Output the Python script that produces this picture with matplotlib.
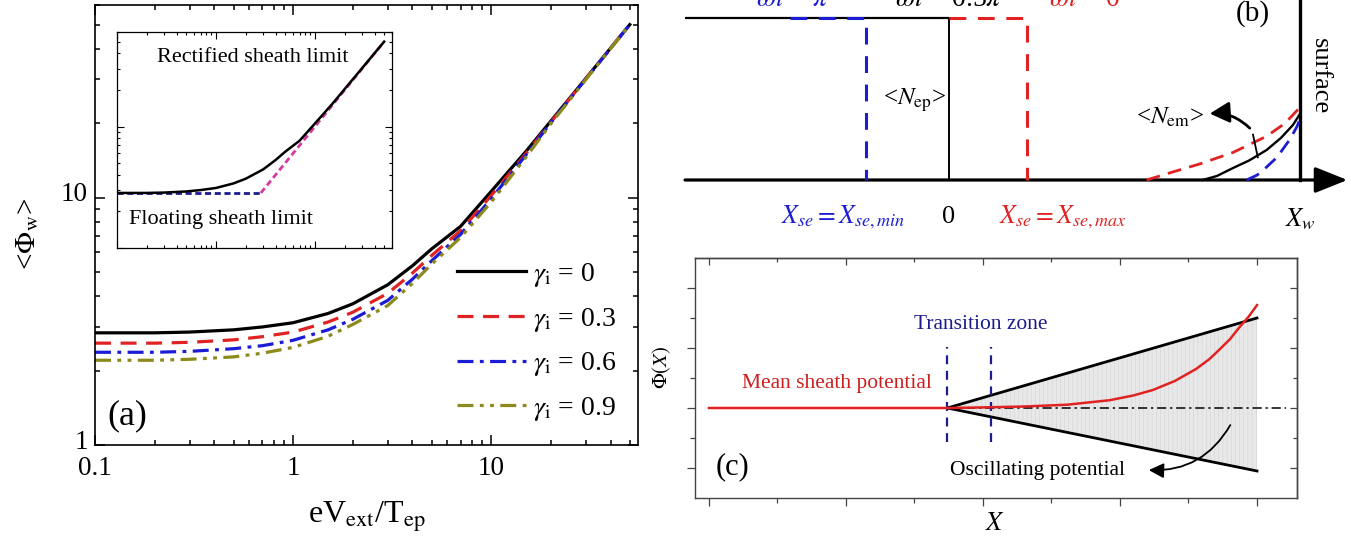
import numpy as np
import matplotlib
matplotlib.use("Agg")
import matplotlib.pyplot as plt
import matplotlib.transforms as mtransforms
from matplotlib.patches import FancyArrowPatch
from matplotlib.ticker import FixedLocator, FixedFormatter, LogLocator, NullFormatter

plt.rcParams['font.family'] = ['Liberation Serif', 'DejaVu Serif']
plt.rcParams['mathtext.fontset'] = 'stix'
plt.rcParams['hatch.linewidth'] = 0.35

# ---------------- data: panel (a) ----------------
v_ext = [0.1, 0.2, 0.3, 0.5, 0.7, 1, 1.5, 2, 3, 4, 5, 7, 10, 15, 20, 30, 50]
phi_g00 = [2.84, 2.84, 2.86, 2.92, 3.0, 3.12, 3.4, 3.72, 4.44, 5.3, 6.2, 7.65, 10.6, 15.4, 20.4, 30.3, 50]
phi_g03 = [2.58, 2.58, 2.6, 2.66, 2.74, 2.86, 3.14, 3.44, 4.1, 4.95, 5.83, 7.35, 10.2, 15.1, 20.2, 30.2, 50]
phi_g06 = [2.37, 2.37, 2.39, 2.45, 2.52, 2.65, 2.92, 3.22, 3.84, 4.68, 5.55, 7.1, 9.9, 14.9, 20.1, 30.1, 50]
phi_g09 = [2.2, 2.2, 2.22, 2.27, 2.35, 2.48, 2.75, 3.07, 3.66, 4.5, 5.38, 6.9, 9.6, 14.6, 19.9, 30.0, 50]
gamma_labels = [r"$\gamma_{\rm i}$ = 0", r"$\gamma_{\rm i}$ = 0.3",
                r"$\gamma_{\rm i}$ = 0.6", r"$\gamma_{\rm i}$ = 0.9"]
x_ticks_a = [0.1, 1, 10]
x_ticklabels_a = ["0.1", "1", "10"]
y_ticks_a = [1, 10]
y_ticklabels_a = ["1", "10"]

# inset: floating and rectified sheath limits
float_v = [0.1, 2.84]
float_phi = [2.84, 2.84]
rect_v = [2.84, 50]
rect_phi = [2.84, 50]

# ---------------- data: panel (b) schematic ----------------
xb_left, xb_se_min, xb_zero, xb_se_max, xb_w, xb_tip = -3.3, -1.04, 0.0, 0.98, 4.39, 4.98
xb_blue_start = -1.99
nem_black_x = [3.17, 3.35, 3.55, 3.75, 3.97, 4.15, 4.30, 4.39]
nem_black_y = [0.0, 0.025, 0.074, 0.12, 0.185, 0.26, 0.34, 0.41]
nem_red_x = [2.47, 2.8, 3.14, 3.55, 3.97, 4.2, 4.39]
nem_red_y = [0.0, 0.05, 0.1, 0.17, 0.27, 0.35, 0.45]
nem_blue_x = [3.72, 3.85, 3.97, 4.1, 4.26, 4.35, 4.39]
nem_blue_y = [0.0, 0.03, 0.08, 0.14, 0.25, 0.33, 0.38]

# ---------------- data: panel (c) schematic ----------------
xc_trans = [3.48, 4.11]
mean_x = [0, 1, 2, 3, 3.48, 4.0, 4.6, 5.23, 5.85, 6.2, 6.48, 6.8, 7.11, 7.3, 7.43, 7.6, 7.74, 7.88, 8.0]
mean_y = [0, 0, 0, 0, 0, 0.02, 0.05, 0.11, 0.26, 0.42, 0.6, 0.9, 1.3, 1.62, 1.9, 2.28, 2.68, 3.05, 3.43]
env_x = [3.48, 8.0]
env_upper = [0.0, 3.0]
env_lower = [0.0, -2.1]
ref_x = [3.48, 8.42]
ref_y = [0.0, 0.0]

RED = '#e02222'
BLUE = '#1c1cd4'
OLIVE = '#8c8a1c'
NAVY = '#1c1c8c'

W, H = 1351, 540
fig = plt.figure(figsize=(W / 100, H / 100), dpi=100)


def px_axes(x0, y0, x1, y1):
    """Axes from a pixel box given as left, top, right, bottom."""
    return fig.add_axes([x0 / W, 1 - y1 / H, (x1 - x0) / W, (y1 - y0) / H])


# ================= panel (a) =================
ax = px_axes(95, 5, 638, 445)
ax.set_xscale('log')
ax.set_yscale('log')
ax.plot(v_ext, phi_g00, color='black', lw=2.3, label=gamma_labels[0])
ax.plot(v_ext, phi_g03, color=RED, lw=2.3, dashes=(5, 3), label=gamma_labels[1])
ax.plot(v_ext, phi_g06, color=BLUE, lw=2.3, dashes=(5, 2, 1.2, 2), label=gamma_labels[2])
ax.plot(v_ext, phi_g09, color=OLIVE, lw=2.3, dashes=(5, 2, 1.2, 2, 1.2, 2), label=gamma_labels[3])
ax.set_xlim(0.1, 55)
ax.set_ylim(1, 60)
ax.xaxis.set_major_locator(FixedLocator(x_ticks_a))
ax.xaxis.set_major_formatter(FixedFormatter(x_ticklabels_a))
ax.yaxis.set_major_locator(FixedLocator(y_ticks_a))
ax.yaxis.set_major_formatter(FixedFormatter(y_ticklabels_a))
for axis in (ax.xaxis, ax.yaxis):
    axis.set_minor_locator(LogLocator(base=10, subs=np.arange(2, 10)))
    axis.set_minor_formatter(NullFormatter())
ax.tick_params(which='both', direction='in', top=True, right=True, labelsize=19.5, width=1.1)
ax.tick_params(which='major', length=7, pad=5)
ax.tick_params(axis='x', which='major', pad=8)
ax.tick_params(which='minor', length=3.5)
# lift the y tick labels a little so "1" clears "0.1"
lift = mtransforms.ScaledTranslation(0, 4 / 72, fig.dpi_scale_trans)
for lab in ax.yaxis.get_majorticklabels():
    lab.set_transform(lab.get_transform() + lift)
for s in ax.spines.values():
    s.set_linewidth(1.2)
ax.set_xlabel(r"eV$_{\rm ext}$/T$_{\rm ep}$", fontsize=23)
ax.xaxis.set_label_coords(0.5, -0.125)
ax.set_ylabel(r"<$\Phi_{\rm w}$>", fontsize=21)
ax.yaxis.set_label_coords(-0.1, 0.48)
ax.text(0.059, 0.066, "(a)", transform=ax.transAxes, fontsize=26, ha='center', va='center')
ax.legend(loc='upper left', bbox_to_anchor=(457 / W, 1 - 261 / H), bbox_transform=fig.transFigure,
          frameon=False, fontsize=20, handlelength=2.5, handletextpad=0.22,
          labelspacing=0.6, borderpad=0, borderaxespad=0)

# inset
axi = px_axes(117, 32, 392, 248)
axi.set_xscale('log')
axi.set_yscale('log')
axi.plot(float_v, float_phi, color=NAVY, lw=2.0, dashes=(2.2, 1.3))
axi.plot(rect_v, rect_phi, color='#d6399c', lw=2.0, dashes=(2.2, 1.3))
axi.plot(v_ext, phi_g00, color='black', lw=1.8)
axi.set_xlim(0.1, 60)
axi.set_ylim(1, 60)
axi.tick_params(which='both', direction='in', top=True, right=True,
                labelbottom=False, labelleft=False, width=0.8)
axi.tick_params(which='major', length=5)
axi.tick_params(which='minor', length=2.5)
for axis in (axi.xaxis, axi.yaxis):
    axis.set_major_locator(LogLocator(base=10))
    axis.set_minor_locator(LogLocator(base=10, subs=np.arange(2, 10)))
    axis.set_minor_formatter(NullFormatter())
for s in axi.spines.values():
    s.set_linewidth(0.9)
axi.text(0.495, 0.884, "Rectified sheath limit", transform=axi.transAxes,
         fontsize=16, ha='center', va='center')
axi.text(0.378, 0.13, "Floating sheath limit", transform=axi.transAxes,
         fontsize=16, ha='center', va='center')

# ================= panel (b) =================
axb = px_axes(680, 0, 1351, 240)
axb.set_xlim(-3.3625, 5.025)
axb.set_ylim(-60 / 162, 180 / 162)
axb.axis('off')
axb.plot([xb_left, xb_zero], [1, 1], color='black', lw=1.6, solid_capstyle='butt')
axb.plot([xb_zero, xb_zero], [0, 1], color='black', lw=1.4)
axb.plot([xb_blue_start, xb_se_min, xb_se_min], [1, 1, 0], color=BLUE, lw=2.2, dashes=(5.5, 3.8))
axb.plot([xb_zero, xb_se_max, xb_se_max], [1, 1, 0], color=RED, lw=2.2, dashes=(5.5, 3.8))
axb.plot([xb_w, xb_w], [0, 1.2], color='black', lw=2.4, clip_on=False)
axb.add_patch(FancyArrowPatch((xb_left, 0), (xb_tip, 0), arrowstyle='-|>,head_length=1.25,head_width=0.5',
                              mutation_scale=16, lw=2.3, color='black', shrinkA=0, shrinkB=0))
axb.plot(nem_red_x, nem_red_y, color=RED, lw=2.0, dashes=(5, 3))
axb.plot(nem_black_x, nem_black_y, color='black', lw=1.7)
axb.plot(nem_blue_x, nem_blue_y, color=BLUE, lw=2.0, dashes=(5, 3))
axb.plot([3.80, 3.86], [0.28, 0.14], color='black', lw=1.3)
axb.add_patch(FancyArrowPatch((3.76, 0.32), (3.26, 0.41), connectionstyle='arc3,rad=0.22',
                              arrowstyle='-|>,head_length=0.75,head_width=0.4', mutation_scale=16,
                              lw=2.0, color='black', shrinkA=0, shrinkB=0))
axb.text(2.76, 0.385, r"<$N_{\rm em}$>", fontsize=18, ha='center', va='center')
axb.text(-0.03, 0.49, r"<$N_{\rm ep}$>", fontsize=18, ha='right', va='center')
axb.text(3.8, 1.03, "(b)", fontsize=21, ha='center', va='center')
axb.text(4.64, 0.64, "surface", fontsize=19, ha='center', va='center', rotation=-90)
axb.text(-1.32, -0.23, r"$X_{se} = X_{se,min}$", fontsize=18.5, ha='center', va='center', color=BLUE)
axb.text(0.0, -0.23, "0", fontsize=19, ha='center', va='center')
axb.text(1.42, -0.23, r"$X_{se} = X_{se,max}$", fontsize=18.5, ha='center', va='center', color=RED)
axb.text(4.39, -0.24, r"$X_w$", fontsize=19, ha='center', va='center')
top_y = (180 - 6) / 162
axb.text(-1.95, top_y, r"$\omega t$ = $\pi$", fontsize=20, ha='center', va='baseline', color=BLUE, clip_on=False)
axb.text(0.0, top_y, r"$\omega t$ = 0.5$\pi$", fontsize=20, ha='center', va='baseline', clip_on=False)
axb.text(1.7, top_y, r"$\omega t$ = 0", fontsize=20, ha='center', va='baseline', color=RED, clip_on=False)

# ================= panel (c) =================
axc = px_axes(695, 258, 1297, 498)
axc.set_xlim(-0.204, 8.584)
axc.set_ylim(-3, 5)
axc.fill_between(env_x, env_lower, env_upper, facecolor='#e8e8e8', edgecolor='#d0d0d0',
                 hatch='||||', lw=0, zorder=1)
axc.plot(ref_x, ref_y, color='black', lw=1.1, dashes=(6, 2.5, 1.5, 2.5), zorder=2)
axc.plot(env_x, env_upper, color='black', lw=2.0, zorder=3)
axc.plot(env_x, env_lower, color='black', lw=2.0, zorder=3)
for xt in xc_trans:
    axc.plot([xt, xt], [-1.13, 2.03], color=NAVY, lw=1.6, dashes=(4, 3), zorder=3)
axc.plot(mean_x, mean_y, color=RED, lw=1.8, zorder=4)
axc.add_patch(FancyArrowPatch((7.61, -0.57), (6.42, -2.07), connectionstyle='arc3,rad=-0.3',
                              arrowstyle='-|>,head_length=0.6,head_width=0.3', mutation_scale=15,
                              lw=1.3, color='black', shrinkA=0, shrinkB=0, zorder=5))
axc.text(3.97, 2.77, "Transition zone", fontsize=15.5, color=NAVY, ha='center', va='center')
axc.text(1.87, 0.83, "Mean sheath potential", fontsize=15.5, color='#cc2020', ha='center', va='center')
axc.text(4.79, -2.07, "Oscillating potential", fontsize=15.5, ha='center', va='center')
axc.text(0.34, -1.97, "(c)", fontsize=22, ha='center', va='center')
xmaj, xmin_ = [0, 2, 4, 6, 8], [1, 3, 5, 7]
ymaj, ymin_ = [-2, 0, 2, 4], [-1, 1, 3]
axc.set_xticks(xmaj)
axc.set_xticks(xmin_, minor=True)
axc.set_yticks(ymaj)
axc.set_yticks(ymin_, minor=True)
axc.tick_params(which='both', direction='out', labelbottom=False, labelleft=False, width=0.9, color='#444444')
axc.tick_params(which='major', length=6)
axc.tick_params(which='minor', length=3.5)
sx = axc.secondary_xaxis('top')
sx.set_xticks(xmaj)
sx.set_xticks(xmin_, minor=True)
sx.tick_params(which='both', direction='in', labeltop=False, width=0.9, color='#444444')
sx.tick_params(which='major', length=5)
sx.tick_params(which='minor', length=3)
sy = axc.secondary_yaxis('right')
sy.set_yticks(ymaj)
sy.set_yticks(ymin_, minor=True)
sy.tick_params(which='both', direction='in', labelright=False, width=0.9, color='#444444')
sy.tick_params(which='major', length=5)
sy.tick_params(which='minor', length=3)
for s in list(axc.spines.values()) + [sx.spines['top'], sy.spines['right']]:
    s.set_linewidth(1.0)
    s.set_color('#444444')
fig.text(662 / W, 1 - 367 / H, r"$\Phi(X)$", fontsize=15, rotation=90, ha='center', va='center')
fig.text(995 / W, 1 - 524 / H, r"$X$", fontsize=19, ha='center', va='center')

fig.savefig("out.png", dpi=100)
